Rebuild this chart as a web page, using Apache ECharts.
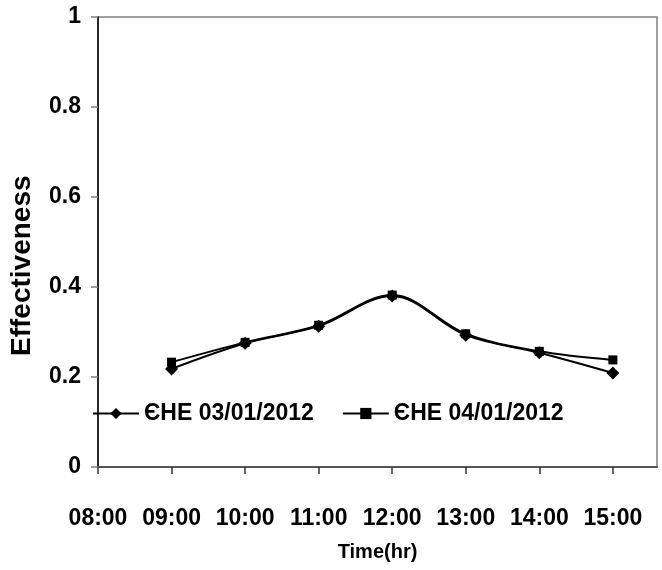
<!DOCTYPE html>
<html>
<head>
<meta charset="utf-8">
<script src="https://cdn.jsdelivr.net/npm/echarts@6/dist/echarts.min.js"></script>
<style>html,body{margin:0;padding:0;background:#fff}#c{width:662px;height:570px}</style>
</head>
<body>
<div id="c"></div>
<script>
var hours = [9, 10, 11, 12, 13, 14, 15];
var series1Name = 'ЄHE 03/01/2012';
var series2Name = 'ЄHE 04/01/2012';
var series1 = [0.218, 0.275, 0.313, 0.380, 0.293, 0.254, 0.209];
var series2 = [0.233, 0.277, 0.315, 0.382, 0.296, 0.257, 0.238];
var xTickLabels = ['08:00', '09:00', '10:00', '11:00', '12:00', '13:00', '14:00', '15:00'];
var yTickLabels = ['0', '0.2', '0.4', '0.6', '0.8', '1'];

function pairs(xs, ys) { return xs.map(function (x, i) { return [x, ys[i]]; }); }

var chart = echarts.init(document.getElementById('c'));
var font = 'Liberation Sans, Arial, sans-serif';
chart.setOption({
  animation: false,
  grid: { left: 98, right: 5, top: 17, bottom: 103, show: true, borderColor: '#808080', borderWidth: 1.5 },
  xAxis: {
    type: 'value', min: 8, max: 15.6, interval: 1,
    name: 'Time(hr)', nameLocation: 'middle', nameGap: 75,
    nameTextStyle: { fontFamily: font, fontWeight: 'bold', fontSize: 20, color: '#000' },
    axisLine: { show: true, lineStyle: { color: '#555', width: 2 } },
    axisTick: { show: true, length: 7, lineStyle: { color: '#333', width: 1.5 } },
    splitLine: { show: false },
    axisLabel: {
      margin: 40, fontFamily: font, fontWeight: 'bold', fontSize: 23, color: '#000',
      showMaxLabel: false,
      formatter: function (v) { var i = Math.round(v - 8); return (Math.abs(v - Math.round(v)) < 1e-6 && xTickLabels[i]) ? xTickLabels[i] : ''; }
    }
  },
  yAxis: {
    type: 'value', min: 0, max: 1, interval: 0.2,
    axisLine: { show: true, lineStyle: { color: '#000', width: 1.5 } },
    axisTick: { show: true, length: 7, lineStyle: { color: '#808080', width: 1.5 } },
    splitLine: { show: false },
    axisLabel: {
      margin: 17, fontFamily: font, fontWeight: 'bold', fontSize: 23, color: '#000',
      formatter: function (v) { var i = Math.round(v / 0.2); return yTickLabels[i]; }
    }
  },
  graphic: [{
    type: 'text',
    style: { text: 'Effectiveness', fontFamily: font, fontWeight: 'bold', fontSize: 28, fill: '#000' },
    rotation: Math.PI / 2, x: 8, y: 356
  }],
  legend: {
    left: 87, top: 397, itemGap: 28, itemWidth: 46, itemHeight: 14,
    textStyle: { fontFamily: font, fontWeight: 'bold', fontSize: 23, color: '#000' },
    data: [series1Name, series2Name]
  },
  series: [
    {
      name: series1Name, type: 'line', smooth: 0.35, data: pairs(hours, series1),
      symbol: 'diamond', symbolSize: 13, itemStyle: { color: '#000' }, lineStyle: { color: '#000', width: 2 }
    },
    {
      name: series2Name, type: 'line', smooth: 0.35, data: pairs(hours, series2),
      symbol: 'rect', symbolSize: 9, itemStyle: { color: '#000' }, lineStyle: { color: '#000', width: 2 }
    }
  ]
});
</script>
</body>
</html>
